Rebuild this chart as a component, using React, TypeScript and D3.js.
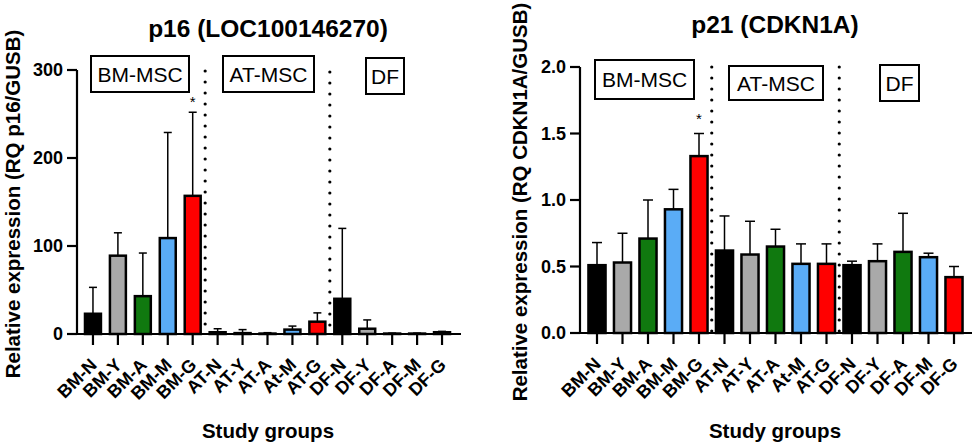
import { useEffect } from "react"
import * as d3 from "d3"

// study groups, shared by both panels
const groups = [
  "BM-N", "BM-Y", "BM-A", "BM-M", "BM-G",
  "AT-N", "AT-Y", "AT-A", "At-M", "AT-G",
  "DF-N", "DF-Y", "DF-A", "DF-M", "DF-G",
]
const groupColors = ["#000000", "#a9a9a9", "#10790f", "#5aacf6", "#ff0000"]
const cellTypes = ["BM-MSC", "AT-MSC", "DF"]

// p16 (LOC100146270) mean and SD
const p16Mean = [23, 89, 43, 109, 157, 2, 1, 0.5, 5, 14, 40, 6, 0.5, 0.5, 2]
const p16Sd = [30, 26, 49, 120, 95, 4, 4, 1, 4, 10, 80, 10, 0.5, 0.5, 1]
const p16Ticks = [0, 100, 200, 300]

// p21 (CDKN1A) mean and SD
const p21Mean = [0.51, 0.53, 0.71, 0.93, 1.33, 0.62, 0.59, 0.65, 0.52, 0.52, 0.51, 0.54, 0.61, 0.57, 0.42]
const p21Sd = [0.17, 0.22, 0.29, 0.15, 0.17, 0.26, 0.25, 0.13, 0.15, 0.15, 0.03, 0.13, 0.29, 0.03, 0.08]
const p21Ticks = [0, 0.5, 1.0, 1.5, 2.0]

const significant = "BM-G"
const FONT = "Arial, 'Liberation Sans', sans-serif"

type PanelProps = {
  title: string
  yLabel: string
  means: number[]
  sds: number[]
  ticks: number[]
  yMax: number
  tickFmt: (v: number) => string
  axisX: [number, number]
  bandRange: [number, number]
  yRange: [number, number]
  barPad: number
  capW: number
  titleX: number
  titleY: number
  yLabelX: number
  boxes: { x: number; y: number; w: number; h: number }[]
  dividerTop: number[]
  dividerBottom: number[]
  starY: number
}

function Panel(p: PanelProps) {
  const x = d3.scaleBand<string>().domain(groups).range(p.bandRange).paddingInner(p.barPad).paddingOuter(p.barPad / 2)
  const y = d3.scaleLinear().domain([0, p.yMax]).range(p.yRange)
  const cx = (g: string) => (x(g) as number) + x.bandwidth() / 2
  const step = x.step()
  const y0 = y(0)

  // dividers sit halfway between the last bar of a cell type and the first of the next
  const dividers = [4, 9].map((i) => cx(groups[i]) + step / 2)

  return (
    <g fontFamily={FONT}>
      <text x={p.titleX} y={p.titleY} textAnchor="middle" fontSize={24.5} fontWeight="bold">
        {p.title}
      </text>

      {/* bars */}
      {groups.map((g, i) => (
        <rect
          key={g}
          x={x(g)}
          y={y(p.means[i])}
          width={x.bandwidth()}
          height={y0 - y(p.means[i])}
          fill={groupColors[i % 5]}
          stroke="#000"
          strokeWidth={2.5}
        />
      ))}

      {/* upper error bars */}
      {groups.map((g, i) => {
        const top = y(p.means[i] + p.sds[i])
        return (
          <g key={g} stroke="#000" strokeWidth={1.5}>
            <line x1={cx(g)} x2={cx(g)} y1={y(p.means[i])} y2={top} />
            <line x1={cx(g) - p.capW / 2} x2={cx(g) + p.capW / 2} y1={top} y2={top} />
          </g>
        )
      })}

      {/* significance mark */}
      <text x={cx(significant)} y={p.starY} textAnchor="middle" fontSize={15}>
        *
      </text>

      {/* dotted dividers */}
      {dividers.map((dx, i) => (
        <line
          key={i}
          x1={dx}
          x2={dx}
          y1={p.dividerTop[i]}
          y2={p.dividerBottom[i]}
          stroke="#000"
          strokeWidth={3.2}
          strokeLinecap="round"
          strokeDasharray="0 11"
        />
      ))}

      {/* cell type boxes */}
      {p.boxes.map((b, i) => (
        <g key={cellTypes[i]}>
          <rect x={b.x} y={b.y} width={b.w} height={b.h} fill="#fff" stroke="#000" strokeWidth={2} />
          <text
            x={b.x + b.w / 2}
            y={b.y + b.h / 2}
            textAnchor="middle"
            dominantBaseline="central"
            fontSize={21}
          >
            {cellTypes[i]}
          </text>
        </g>
      ))}

      {/* y axis */}
      <line x1={p.axisX[0]} x2={p.axisX[0]} y1={y(p.yMax)} y2={y0} stroke="#000" strokeWidth={2.2} />
      {p.ticks.map((t) => (
        <g key={t}>
          <line x1={p.axisX[0] - 10} x2={p.axisX[0]} y1={y(t)} y2={y(t)} stroke="#000" strokeWidth={2.2} />
          <text
            x={p.axisX[0] - 14}
            y={y(t)}
            textAnchor="end"
            dominantBaseline="central"
            fontSize={18}
            fontWeight="bold"
          >
            {p.tickFmt(t)}
          </text>
        </g>
      ))}
      <text
        transform={`translate(${p.yLabelX},${(y(p.yMax) + y0) / 2 + 2}) rotate(-90)`}
        textAnchor="middle"
        dominantBaseline="central"
        fontSize={20.5}
        fontWeight="bold"
      >
        {p.yLabel}
      </text>

      {/* x axis */}
      <line x1={p.axisX[0] - 1} x2={p.axisX[1]} y1={y0} y2={y0} stroke="#000" strokeWidth={2.2} />
      {groups.map((g) => (
        <g key={g}>
          <line x1={cx(g)} x2={cx(g)} y1={y0} y2={y0 + 11} stroke="#000" strokeWidth={2.2} />
          <text
            transform={`translate(${cx(g) + 5},${y0 + 32}) rotate(-45)`}
            textAnchor="end"
            fontSize={18}
            fontWeight="bold"
          >
            {g}
          </text>
        </g>
      ))}
      <text x={p.titleX} y={438} textAnchor="middle" fontSize={20.5} fontWeight="bold">
        Study groups
      </text>
    </g>
  )
}

export default function App() {
  useEffect(() => {
    document.body.style.margin = "0"
  }, [])

  return (
    <svg width={976} height={447} style={{ display: "block", background: "#fff" }}>
      <Panel
        title="p16 (LOC100146270)"
        yLabel="Relative expression (RQ p16/GUSB)"
        means={p16Mean}
        sds={p16Sd}
        ticks={p16Ticks}
        yMax={300}
        tickFmt={(v) => d3.format("d")(v)}
        axisX={[77, 461]}
        bandRange={[80.5, 454.5]}
        yRange={[334, 70]}
        barPad={0.36}
        capW={8}
        titleX={268}
        titleY={37}
        yLabelX={12}
        boxes={[
          { x: 91, y: 56, w: 98, h: 36 },
          { x: 223, y: 56, w: 91, h: 36 },
          { x: 366, y: 58, w: 38, h: 36 },
        ]}
        dividerTop={[71, 72]}
        dividerBottom={[333, 326]}
        starY={107}
      />
      <Panel
        title="p21 (CDKN1A)"
        yLabel="Relative expression (RQ CDKN1A/GUSB)"
        means={p21Mean}
        sds={p21Sd}
        ticks={p21Ticks}
        yMax={2}
        tickFmt={(v) => d3.format(".1f")(v)}
        axisX={[580, 972]}
        bandRange={[584.25, 966.75]}
        yRange={[333, 67]}
        barPad={0.33}
        capW={10}
        titleX={775}
        titleY={33}
        yLabelX={519}
        boxes={[
          { x: 595, y: 60, w: 99, h: 39 },
          { x: 729, y: 66, w: 94, h: 34 },
          { x: 880, y: 65, w: 39, h: 36 },
        ]}
        dividerTop={[67, 67]}
        dividerBottom={[333, 333]}
        starY={124}
      />
    </svg>
  )
}
